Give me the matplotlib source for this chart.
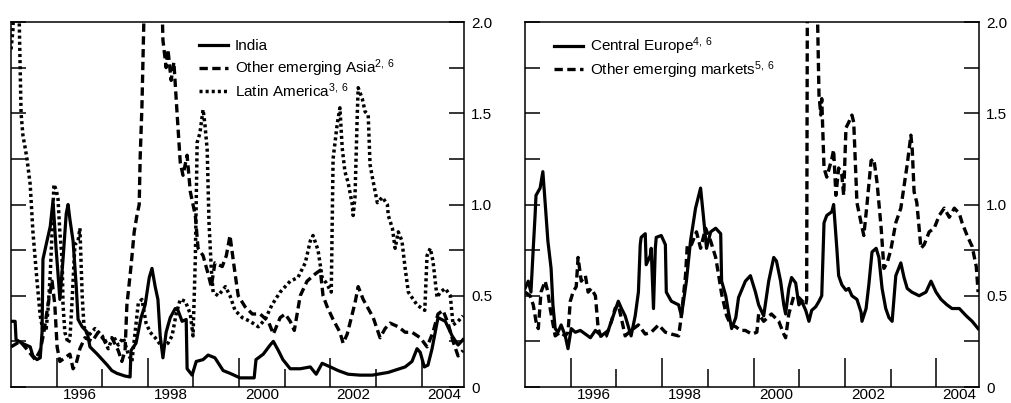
import numpy as np
import matplotlib
matplotlib.use('Agg')
import matplotlib.pyplot as plt

plt.rcParams['font.family'] = ['Liberation Sans', 'DejaVu Sans']
plt.rcParams['mathtext.default'] = 'regular'
plt.rcParams['lines.scale_dashes'] = False

# ---- left panel: India, other emerging Asia, Latin America ----
india_t = [1995.00, 1995.09, 1995.11, 1995.24, 1995.42, 1995.48, 1995.57, 1995.64, 1995.68, 1995.70,
           1995.77, 1995.86, 1995.92, 1995.99, 1996.03, 1996.07, 1996.14, 1996.21, 1996.25, 1996.29,
           1996.36, 1996.43, 1996.47, 1996.56, 1996.67, 1996.73, 1996.89, 1997.00, 1997.11, 1997.21,
           1997.32, 1997.50, 1997.61, 1997.63, 1997.74, 1997.85, 1997.94, 1998.03, 1998.09, 1998.16,
           1998.22, 1998.27, 1998.33, 1998.40, 1998.49, 1998.60, 1998.66, 1998.75, 1998.84, 1998.86,
           1998.97, 1999.06, 1999.21, 1999.32, 1999.47, 1999.65, 1999.80, 2000.02, 2000.33, 2000.37,
           2000.53, 2000.68, 2000.75, 2000.86, 2000.96, 2001.12, 2001.34, 2001.56, 2001.69, 2001.82,
           2002.00, 2002.17, 2002.39, 2002.65, 2002.92, 2003.27, 2003.64, 2003.79, 2003.90, 2003.97,
           2004.06, 2004.14, 2004.23, 2004.36, 2004.52, 2004.67, 2004.80, 2004.91]
india_v = [0.36, 0.36, 0.26, 0.24, 0.22, 0.17, 0.15, 0.16, 0.30, 0.70,
           0.78, 0.88, 1.02, 0.75, 0.62, 0.48, 0.70, 0.95, 1.00, 0.92,
           0.80, 0.55, 0.37, 0.33, 0.30, 0.22, 0.18, 0.15, 0.12, 0.09,
           0.075, 0.06, 0.055, 0.20, 0.24, 0.38, 0.45, 0.60, 0.65, 0.55,
           0.48, 0.28, 0.16, 0.30, 0.38, 0.43, 0.42, 0.36, 0.37, 0.10,
           0.065, 0.14, 0.15, 0.175, 0.16, 0.09, 0.075, 0.05, 0.05, 0.15,
           0.18, 0.23, 0.25, 0.20, 0.15, 0.10, 0.10, 0.11, 0.07, 0.13,
           0.11, 0.09, 0.07, 0.065, 0.065, 0.08, 0.11, 0.14, 0.21, 0.19,
           0.11, 0.12, 0.21, 0.38, 0.36, 0.28, 0.23, 0.26]

asia_t = [1995.00, 1995.20, 1995.37, 1995.53, 1995.64, 1995.72, 1995.81, 1995.90, 1995.96, 1996.01,
          1996.07, 1996.18, 1996.29, 1996.36, 1996.43, 1996.51, 1996.62, 1996.78, 1996.91, 1997.06,
          1997.21, 1997.35, 1997.43, 1997.50, 1997.54, 1997.63, 1997.70, 1997.76, 1997.81, 1997.83,
          1997.87, 1997.92, 1997.96, 1998.27, 1998.31, 1998.33, 1998.40, 1998.44, 1998.51, 1998.57,
          1998.64, 1998.71, 1998.77, 1998.86, 1998.93, 1999.04, 1999.10, 1999.21, 1999.32, 1999.39,
          1999.47, 1999.63, 1999.72, 1999.80, 1999.89, 1999.98, 2000.13, 2000.29, 2000.46, 2000.64,
          2000.75, 2000.90, 2001.01, 2001.12, 2001.21, 2001.34, 2001.49, 2001.67, 2001.78, 2001.84,
          2001.93, 2002.06, 2002.21, 2002.28, 2002.37, 2002.43, 2002.54, 2002.61, 2002.72, 2002.94,
          2003.09, 2003.20, 2003.31, 2003.49, 2003.64, 2003.79, 2003.97, 2004.12, 2004.25, 2004.36,
          2004.47, 2004.58, 2004.69, 2004.80, 2004.91]
asia_v = [0.22, 0.25, 0.20, 0.15, 0.20, 0.30, 0.45, 0.58, 0.45, 0.22,
          0.14, 0.16, 0.18, 0.10, 0.13, 0.21, 0.27, 0.25, 0.30, 0.25,
          0.27, 0.20, 0.14, 0.20, 0.45, 0.66, 0.85, 0.94, 1.00, 1.25,
          1.54, 2.10, 2.60, 2.60, 2.10, 1.90, 1.75, 1.85, 1.68, 1.78,
          1.50, 1.23, 1.16, 1.27, 1.07, 0.94, 0.76, 0.72, 0.62, 0.55,
          0.68, 0.66, 0.72, 0.83, 0.66, 0.50, 0.44, 0.40, 0.40, 0.36,
          0.29, 0.38, 0.40, 0.36, 0.31, 0.50, 0.58, 0.62, 0.64, 0.50,
          0.44, 0.37, 0.30, 0.24, 0.29, 0.35, 0.46, 0.55, 0.48, 0.38,
          0.27, 0.32, 0.35, 0.33, 0.30, 0.30, 0.27, 0.22, 0.30, 0.40,
          0.42, 0.35, 0.25, 0.17, 0.20]

latam_t = [1995.00, 1995.04, 1995.09, 1995.15, 1995.18, 1995.20, 1995.22, 1995.26, 1995.31, 1995.35,
           1995.42, 1995.48, 1995.57, 1995.64, 1995.70, 1995.77, 1995.81, 1995.86, 1995.90, 1995.94,
           1995.99, 1996.03, 1996.07, 1996.12, 1996.14, 1996.18, 1996.25, 1996.29, 1996.34, 1996.40,
           1996.47, 1996.51, 1996.56, 1996.60, 1996.69, 1996.84, 1997.00, 1997.13, 1997.24, 1997.35,
           1997.46, 1997.57, 1997.65, 1997.72, 1997.79, 1997.87, 1997.96, 1998.05, 1998.16, 1998.31,
           1998.44, 1998.53, 1998.62, 1998.71, 1998.82, 1998.93, 1998.99, 1999.04, 1999.08, 1999.14,
           1999.21, 1999.25, 1999.30, 1999.34, 1999.39, 1999.43, 1999.54, 1999.70, 1999.80, 1999.91,
           2000.07, 2000.24, 2000.42, 2000.57, 2000.72, 2000.90, 2001.12, 2001.29, 2001.45, 2001.56,
           2001.62, 2001.73, 2001.82, 2001.91, 2002.02, 2002.06, 2002.15, 2002.21, 2002.26, 2002.32,
           2002.39, 2002.48, 2002.50, 2002.54, 2002.59, 2002.61, 2002.70, 2002.76, 2002.83, 2002.87,
           2002.92, 2003.03, 2003.14, 2003.25, 2003.27, 2003.36, 2003.42, 2003.49, 2003.57, 2003.64,
           2003.71, 2003.79, 2003.90, 2004.01, 2004.07, 2004.12, 2004.19, 2004.25, 2004.34, 2004.41,
           2004.52, 2004.63, 2004.69, 2004.80, 2004.91]
latam_v = [1.85, 1.95, 2.30, 2.30, 2.00, 1.75, 1.50, 1.38, 1.31, 1.25,
           1.11, 0.85, 0.58, 0.39, 0.31, 0.32, 0.42, 0.62, 0.85, 1.11,
           1.08, 1.03, 0.85, 0.70, 0.45, 0.30, 0.24, 0.26, 0.48, 0.78,
           0.80, 0.87, 0.50, 0.33, 0.28, 0.32, 0.28, 0.21, 0.28, 0.23,
           0.27, 0.18, 0.14, 0.30, 0.46, 0.48, 0.35, 0.30, 0.27, 0.22,
           0.24, 0.28, 0.40, 0.48, 0.47, 0.40, 0.28, 0.70, 1.34, 1.39,
           1.52, 1.44, 1.30, 0.90, 0.65, 0.52, 0.50, 0.55, 0.50, 0.42,
           0.38, 0.36, 0.33, 0.37, 0.45, 0.52, 0.58, 0.60, 0.68, 0.80,
           0.83, 0.75, 0.60, 0.57, 0.52, 1.25, 1.44, 1.53, 1.31, 1.18,
           1.12, 1.00, 0.94, 1.04, 1.49, 1.64, 1.58, 1.51, 1.49, 1.22,
           1.15, 1.01, 1.04, 1.00, 0.94, 0.87, 0.76, 0.85, 0.80, 0.65,
           0.52, 0.49, 0.45, 0.43, 0.42, 0.72, 0.76, 0.69, 0.49, 0.52,
           0.54, 0.50, 0.34, 0.36, 0.39]

# ---- right panel: Central Europe, other emerging markets ----
ceu_t = [1995.00, 1995.07, 1995.13, 1995.18, 1995.22, 1995.24, 1995.33, 1995.39, 1995.44, 1995.50,
         1995.57, 1995.61, 1995.66, 1995.72, 1995.79, 1995.88, 1995.94, 1996.01, 1996.10, 1996.21,
         1996.32, 1996.43, 1996.54, 1996.67, 1996.82, 1996.93, 1997.04, 1997.11, 1997.19, 1997.32,
         1997.41, 1997.48, 1997.52, 1997.54, 1997.63, 1997.65, 1997.74, 1997.76, 1997.81, 1997.85,
         1997.87, 1997.98, 1998.07, 1998.09, 1998.20, 1998.36, 1998.42, 1998.53, 1998.62, 1998.73,
         1998.84, 1998.90, 1998.97, 1999.06, 1999.17, 1999.28, 1999.30, 1999.39, 1999.45, 1999.52,
         1999.61, 1999.67, 1999.82, 1999.93, 2000.04, 2000.11, 2000.22, 2000.33, 2000.44, 2000.50,
         2000.59, 2000.66, 2000.70, 2000.77, 2000.83, 2000.92, 2000.99, 2001.05, 2001.14, 2001.21,
         2001.27, 2001.36, 2001.43, 2001.49, 2001.54, 2001.60, 2001.71, 2001.75, 2001.82, 2001.86,
         2001.93, 2002.02, 2002.08, 2002.15, 2002.26, 2002.35, 2002.37, 2002.46, 2002.52, 2002.59,
         2002.68, 2002.74, 2002.81, 2002.89, 2002.96, 2003.03, 2003.11, 2003.22, 2003.29, 2003.36,
         2003.46, 2003.62, 2003.77, 2003.88, 2003.99, 2004.10, 2004.23, 2004.34, 2004.50, 2004.65,
         2004.78, 2004.91]
ceu_v = [0.54, 0.58, 0.52, 0.76, 0.94, 1.05, 1.09, 1.18, 1.01, 0.80,
         0.65, 0.45, 0.32, 0.30, 0.34, 0.28, 0.21, 0.32, 0.30, 0.31,
         0.29, 0.27, 0.31, 0.28, 0.31, 0.39, 0.47, 0.43, 0.39, 0.28,
         0.39, 0.52, 0.78, 0.82, 0.84, 0.67, 0.72, 0.76, 0.43, 0.76,
         0.82, 0.83, 0.78, 0.52, 0.47, 0.45, 0.39, 0.58, 0.80, 0.98,
         1.09, 0.94, 0.76, 0.85, 0.87, 0.84, 0.58, 0.50, 0.41, 0.32,
         0.38, 0.49, 0.58, 0.61, 0.52, 0.45, 0.39, 0.58, 0.71, 0.69,
         0.58, 0.45, 0.40, 0.54, 0.60, 0.57, 0.45, 0.47, 0.42, 0.36,
         0.42, 0.44, 0.47, 0.50, 0.90, 0.94, 0.96, 1.00, 0.76, 0.61,
         0.56, 0.53, 0.54, 0.50, 0.48, 0.41, 0.36, 0.43, 0.56, 0.74,
         0.76, 0.71, 0.54, 0.43, 0.38, 0.36, 0.61, 0.68, 0.60, 0.54,
         0.52, 0.50, 0.52, 0.58, 0.52, 0.48, 0.45, 0.43, 0.43, 0.39,
         0.36, 0.32]

oem_t = [1995.00, 1995.11, 1995.18, 1995.24, 1995.29, 1995.35, 1995.44, 1995.50, 1995.55, 1995.66,
         1995.77, 1995.88, 1995.94, 1995.99, 1996.05, 1996.12, 1996.16, 1996.23, 1996.32, 1996.38,
         1996.45, 1996.54, 1996.60, 1996.67, 1996.78, 1996.89, 1996.97, 1997.04, 1997.13, 1997.19,
         1997.32, 1997.48, 1997.63, 1997.76, 1997.92, 1998.07, 1998.20, 1998.36, 1998.42, 1998.51,
         1998.55, 1998.64, 1998.75, 1998.84, 1998.95, 1999.06, 1999.17, 1999.23, 1999.30, 1999.41,
         1999.50, 1999.61, 1999.71, 1999.82, 1999.96, 2000.07, 2000.11, 2000.22, 2000.39, 2000.55,
         2000.66, 2000.70, 2000.77, 2000.88, 2000.99, 2001.14, 2001.16, 2001.18, 2001.38, 2001.40,
         2001.43, 2001.47, 2001.49, 2001.54, 2001.60, 2001.71, 2001.75, 2001.80, 2001.86, 2001.93,
         2001.97, 2002.02, 2002.08, 2002.15, 2002.19, 2002.26, 2002.35, 2002.41, 2002.48, 2002.57,
         2002.63, 2002.70, 2002.79, 2002.85, 2002.92, 2003.00, 2003.11, 2003.22, 2003.29, 2003.36,
         2003.44, 2003.47, 2003.51, 2003.57, 2003.66, 2003.73, 2003.84, 2003.95, 2004.06, 2004.17,
         2004.28, 2004.39, 2004.50, 2004.56, 2004.67, 2004.78, 2004.87, 2004.91]
oem_v = [0.52, 0.50, 0.45, 0.36, 0.32, 0.52, 0.58, 0.52, 0.43, 0.28,
         0.30, 0.28, 0.30, 0.47, 0.52, 0.55, 0.71, 0.58, 0.61, 0.52,
         0.54, 0.50, 0.32, 0.27, 0.28, 0.36, 0.43, 0.45, 0.35, 0.28,
         0.31, 0.34, 0.29, 0.30, 0.34, 0.30, 0.29, 0.28, 0.39, 0.61,
         0.78, 0.78, 0.85, 0.76, 0.87, 0.80, 0.71, 0.62, 0.51, 0.39,
         0.34, 0.33, 0.31, 0.31, 0.29, 0.30, 0.40, 0.36, 0.40, 0.36,
         0.29, 0.27, 0.40, 0.50, 0.49, 0.45, 0.48, 2.60, 2.60, 2.00,
         1.60, 1.49, 1.58, 1.20, 1.15, 1.25, 1.30, 1.05, 1.20, 1.16,
         1.05, 1.42, 1.45, 1.49, 1.45, 1.01, 0.90, 0.83, 1.00, 1.24,
         1.25, 1.12, 0.87, 0.65, 0.68, 0.75, 0.90, 0.98, 1.10, 1.22,
         1.38, 1.30, 1.07, 1.01, 0.76, 0.78, 0.85, 0.87, 0.94, 0.98,
         0.93, 0.98, 0.95, 0.90, 0.83, 0.77, 0.66, 0.52]

year_ticks = list(range(1996, 2005))
year_labels = ['1996', '1998', '2000', '2002', '2004']
y_ticks = [0, 0.25, 0.5, 0.75, 1.0, 1.25, 1.5, 1.75, 2.0]
y_labels = ['0', '', '0.5', '', '1.0', '', '1.5', '', '2.0']

FS = 11
solid = dict(color='black', lw=2.3, solid_joinstyle='round')
dashed = dict(color='black', lw=2.4, dashes=(6, 3.2))
dotted = dict(color='black', lw=2.5, dashes=(2.2, 2.2), dash_capstyle='butt')
leg_kw = dict(loc='upper left', frameon=False, fontsize=FS, handlelength=1.9,
              handletextpad=0.45, labelspacing=0.1, borderpad=0, borderaxespad=0)


def style_axes(ax):
    ax.set_xlim(1995.0, 2004.93)
    ax.set_ylim(0, 2.0)
    for sp in ax.spines.values():
        sp.set_linewidth(1.1)
    ax.set_yticks(y_ticks)
    ax.set_yticklabels(y_labels)
    ax.tick_params(axis='y', direction='in', left=True, right=True,
                   labelleft=False, labelright=True, length=10.8, width=1.1,
                   labelsize=FS, pad=5)
    even = [y for y in year_ticks if y % 2 == 0]
    odd = [y for y in year_ticks if y % 2 == 1]
    ax.set_xticks(even)
    ax.set_xticks(odd, minor=True)
    ax.tick_params(axis='x', which='major', direction='in', length=21, width=1.1,
                   labelbottom=False, top=False)
    ax.tick_params(axis='x', which='minor', direction='in', length=13, width=1.1,
                   labelbottom=False, top=False)
    sec = ax.secondary_xaxis('bottom')
    sec.set_xticks([int(s) + 0.5 for s in year_labels])
    sec.set_xticklabels(year_labels)
    sec.tick_params(length=0, labelsize=FS, pad=0.5)
    sec.spines['bottom'].set_visible(False)


fig = plt.figure(figsize=(10.12, 4.03), dpi=100)
ax1 = fig.add_axes([0.0109, 0.0397, 0.4476, 0.9057])
ax2 = fig.add_axes([0.5188, 0.0397, 0.4486, 0.9057])

l_india, = ax1.plot(india_t, india_v, label='India', **solid)
l_asia, = ax1.plot(asia_t, asia_v, label='Other emerging Asia$^{2,\\,6}$', **dashed)
l_latam, = ax1.plot(latam_t, latam_v, label='Latin America$^{3,\\,6}$', **dotted)
style_axes(ax1)
# India has no superscript, so it gets its own legend to keep row spacing even
leg_top = ax1.legend(handles=[l_india], bbox_to_anchor=(0.415, 0.953), **leg_kw)
ax1.add_artist(leg_top)
ax1.legend(handles=[l_asia, l_latam], bbox_to_anchor=(0.415, 0.902), **leg_kw)

ax2.plot(ceu_t, ceu_v, label='Central Europe$^{4,\\,6}$', **solid)
ax2.plot(oem_t, oem_v, label='Other emerging markets$^{5,\\,6}$', **dashed)
style_axes(ax2)
ax2.legend(bbox_to_anchor=(0.064, 0.962), **leg_kw)

fig.savefig('out.png', dpi=100)
